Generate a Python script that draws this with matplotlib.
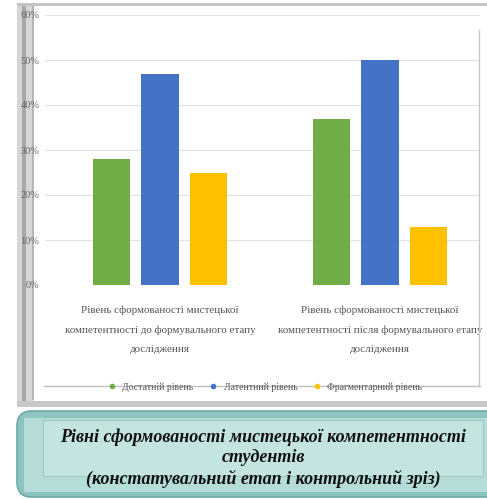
import numpy as np
import matplotlib
matplotlib.use("Agg")
import matplotlib.pyplot as plt
from matplotlib.patches import Rectangle, FancyBboxPatch
from matplotlib.lines import Line2D

categories = [
    "Рівень сформованості мистецької\nкомпетентності до формувального етапу\nдослідження",
    "Рівень сформованості мистецької\nкомпетентності після формувального етапу\nдослідження",
]
series_names = ["Достатній рівень", "Латентний рівень", "Фрагментарний рівень"]
values_green = [28, 37]
values_blue = [47, 50]
values_yellow = [25, 13]
y_ticks = [0, 10, 20, 30, 40, 50, 60]
colors = ["#70AD47", "#4472C4", "#FFC000"]

title_lines = "Рівні сформованості мистецької компетентності\nстудентів\n(констатувальний етап і контрольний зріз)"

W, H = 487, 499
fig = plt.figure(figsize=(W / 100, H / 100), dpi=100)
fig.patch.set_facecolor("white")


def fx(px):
    return px / W


def fy(py):
    return 1 - py / H


# chart frame: grey left band, top line
fig.patches.append(Rectangle((fx(17), fy(406)), fx(16), 403 / H,
                             transform=fig.transFigure, facecolor="#d6d6d6",
                             edgecolor="none", zorder=0))
fig.patches.append(Rectangle((fx(22), fy(406)), fx(4), 403 / H,
                             transform=fig.transFigure, facecolor="#a8a8a8",
                             edgecolor="none", zorder=0))
fig.patches.append(Rectangle((fx(32), fy(400)), fx(1.5), 397 / H,
                             transform=fig.transFigure, facecolor="#b5b5b5",
                             edgecolor="none", zorder=0))
fig.patches.append(Rectangle((fx(17), fy(6)), 1, 3 / H,
                             transform=fig.transFigure, facecolor="#c4c4c4",
                             edgecolor="none", zorder=0))
fig.patches.append(Rectangle((fx(17), fy(407)), 1, 6 / H,
                             transform=fig.transFigure, facecolor="#c8c8c8",
                             edgecolor="none", zorder=0))
fig.lines.append(Line2D([fx(44), fx(480)], [fy(386), fy(386)],
                        transform=fig.transFigure, color="#c0c0c0", lw=1))
fig.lines.append(Line2D([fx(479), fx(479)], [fy(30), fy(386)],
                        transform=fig.transFigure, color="#c8c8c8", lw=1))

ax = fig.add_axes([fx(45), fy(285), fx(480) - fx(45), (285 - 15) / H])
ax.set_zorder(2)
ax.patch.set_alpha(0)

x = np.arange(len(categories))
width = 0.17
step = 0.22
for i, (vals, c, name) in enumerate(zip([values_green, values_blue, values_yellow],
                                        colors, series_names)):
    ax.bar(x + (i - 1) * step, vals, width, color=c, label=name, zorder=3)

ax.set_xlim(-0.523, 1.455)
ax.set_ylim(0, 60)
ax.set_yticks(y_ticks)
ax.set_yticklabels([f"{t}%" for t in y_ticks], family="Liberation Serif",
                   fontsize=7.5, color="#666666")
ax.yaxis.grid(True, color="#e3e3e3", lw=0.8, zorder=0)
ax.tick_params(axis="y", length=0, pad=4)
ax.set_xticks([])
for s in ax.spines.values():
    s.set_visible(False)

for xi, lab in zip(x, categories):
    ax.text(xi, -4.5, lab, ha="center", va="top", family="Liberation Serif",
            fontsize=7.9, color="#555555", linespacing=2.45)

handles = [Line2D([], [], marker="o", ls="none", color=c, markersize=3)
           for c in colors]
fig.legend(handles, series_names, loc="center", bbox_to_anchor=(fx(262), fy(387)),
           ncol=3, frameon=False, prop={"family": "Liberation Serif", "size": 7},
           handletextpad=0.1, columnspacing=1.0, labelcolor="#555555")

# title box
box = FancyBboxPatch((fx(17), fy(497)), 1, 86 / H,
                     boxstyle="round,pad=0,rounding_size=0.03",
                     transform=fig.transFigure, facecolor="#8cc4bf",
                     edgecolor="#6fa9a4", lw=1.2, zorder=1)
fig.patches.append(box)
fig.patches.append(Rectangle((fx(24), fy(492)), 1, 74 / H,
                             transform=fig.transFigure, facecolor="#b6dcd8",
                             edgecolor="none", zorder=1))
fig.patches.append(Rectangle((fx(43), fy(476)), fx(483) - fx(43), 56 / H,
                             transform=fig.transFigure, facecolor="#c4e4e0",
                             edgecolor="#a2c8c4", lw=0.8, zorder=1))

fig.text(fx(263), fy(458), title_lines, ha="center", va="center",
         family="Liberation Serif", fontsize=13, fontweight="bold",
         style="italic", color="#111111", linespacing=1.25, zorder=2)

fig.savefig("out.png", dpi=100)
